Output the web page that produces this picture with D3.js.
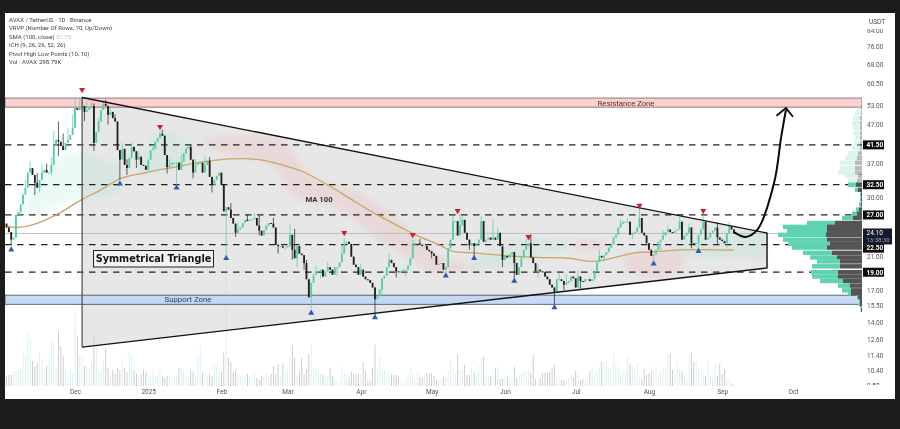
<!DOCTYPE html>
<html>
<head>
<meta charset="utf-8">
<script src="https://cdn.jsdelivr.net/npm/d3@7"></script>
<style>
  html, body { margin: 0; padding: 0; background: #1c1c1c; }
  svg { display: block; filter: blur(0.3px); }
  text { font-family: Roboto, "Noto Sans", sans-serif; }
</style>
</head>
<body>
<svg id="chart" width="900" height="429"></svg>
<script>
// daily closes by month (first candle 2024-11-02)
const firstDay = "2024-11-02";
const closeNov = [25,24.3,23.2,23.5,27,27.5,28.8,30.6,31.9,35,36,34.5,32.9,31.9,33.5,35,35.6,35,35,36.7,41.5,42.8,42.3,41.2,40.2,42,42.8,44.1,46.1];
const closeDec = [52,51.4,52,52.7,50.8,51.4,52,52.7,42,44.9,47.9,51.4,53.3,52.7,49.9,50.8,48.9,47.9,40.2,37.9,40.5,36.7,36,38.3,41,39.9,37.9,38.6,36.7,36.5,35.6];
const closeJan = [37.9,40.2,40.5,42.3,43.3,44.4,43.9,39,36.2,36.7,37.2,37.2,37.2,35.6,37.4,39.4,40.5,41,37.9,35,36.7,37.2,37.2,35,36.7,37.6,34.1,32.5,33.5,34.3,35];
const closeFeb = [32.5,27.6,28.3,27.9,26.5,25.6,24.2,24.7,25,25.7,26.2,26,26.2,26.3,26.5,25.3,24.5,23.8,24.6,25.3,25.7,25.6,25,22.5,22.3,22.3,22.1,22.1];
const closeMar = [22.3,23.9,21.8,20.7,22.3,21.3,21.1,20.1,18.2,16.3,17.8,18.7,19.1,19.1,19.3,18.5,19.1,19.6,19.3,18.7,19.6,19.6,20.2,21.3,22.7,22.9,22.6,20.9,19.9,19.6,18.7];
const closeApr = [19.3,18.5,18.2,18.1,17.8,17.3,16.1,16.4,17.1,18.3,18.6,19.6,20.5,20.1,19.6,19.1,19,19.1,19.3,19.3,19.8,20.7,22.5,22.7,22.7,22.5,22.3,22.3,21.8,21.6];
const closeMay = [21.3,21,19.9,20,20.1,19.3,19.6,22,23.2,26,26,23.8,25.3,26.2,24.2,23.2,22.4,22.7,22.3,22.7,23.2,26,22.9,23.2,23.5,23.2,23.5,23.2,24.2,22.3,20.5];
const closeJun = [21,20.8,21.2,21.5,20.1,18.7,19.6,20.8,21.8,22.3,22.7,20.8,20.1,19.1,19.3,19.1,19,18.5,18.2,17.6,17.3,16.8,18.2,18.2,18,17.6,17.8,18,18.5,18.3];
const closeJul = [17.3,18.5,18,17.9,18.2,18.2,18,18.2,19,20.2,21,20.8,21.1,21.5,22.1,22.5,23.5,23.9,25,25.6,25.9,25.9,25.9,23.9,24.2,24.3,25,26.5,24.2,23.8,22.7];
const closeAug = [21.8,21,21.2,21.8,22.9,23.2,23.8,24.3,24.7,24.3,24.2,24.5,24.7,25.9,23.2,23.8,24.2,25,22.7,22.6,22.7,23.9,24.7,25.9,23.2,23.5,24.2,24.5,25,23.5,23.2];
const closeSep = [23,22.7,24.1,25.2,24.7,24.1];
const closes = [].concat(closeNov,closeDec,closeJan,closeFeb,closeMar,closeApr,closeMay,closeJun,closeJul,closeAug,closeSep);

// the wicks that can actually be seen
const wickHighs = [["2024-11-10",33.5],["2024-11-12",37.6],["2024-11-15",35],["2024-11-17",36.9],["2024-11-19",37],["2024-11-21",38.5],["2024-11-22",45.2],["2024-11-24",47.9],["2024-11-26",44.5],["2024-11-28",46],["2024-11-30",50],["2024-12-01",55],["2024-12-03",55],["2024-12-04",56],["2024-12-06",54],["2024-12-08",54],["2024-12-09",53.6],["2024-12-11",49],["2024-12-13",54.5],["2024-12-14",54.8],["2024-12-16",52.5],["2024-12-18",50],["2024-12-21",42],["2024-12-23",38],["2024-12-25",42],["2024-12-28",40],["2025-01-03",41.5],["2025-01-06",45],["2025-01-07",45.5],["2025-01-10",38],["2025-01-15",39],["2025-01-19",41.5],["2025-01-21",38],["2025-01-25",38.9],["2025-01-27",38.5],["2025-02-05",29],["2025-02-08",25.8],["2025-02-12",27],["2025-02-15",27.3],["2025-02-17",26.9],["2025-02-23",26.5],["2025-03-02",25.5],["2025-03-04",24.8],["2025-03-09",20.5],["2025-03-13",19.8],["2025-03-18",20.3],["2025-03-24",22.5],["2025-03-25",23.4],["2025-04-01",20],["2025-04-13",21.3],["2025-04-23",23.2],["2025-04-26",23.3],["2025-05-10",26.8],["2025-05-13",27.2],["2025-05-14",27],["2025-05-22",26.8],["2025-05-27",26.4],["2025-05-29",25],["2025-06-10",23.3],["2025-06-12",24],["2025-06-15",20],["2025-06-24",19],["2025-06-27",18.8],["2025-07-02",19.2],["2025-07-11",21.8],["2025-07-20",26.3],["2025-07-23",26.5],["2025-07-28",28.3],["2025-08-07",24.6],["2025-08-09",25.3],["2025-08-14",26.6],["2025-08-18",25.6],["2025-08-24",27],["2025-08-30",25.8],["2025-09-04",25.9]];
const wickLows = [["2024-11-04",22.4],["2024-11-08",27],["2024-11-14",30.5],["2024-11-16",31],["2024-11-21",34.5],["2024-11-24",38.8],["2024-12-05",48],["2024-12-09",40],["2024-12-15",47],["2024-12-20",33.5],["2024-12-23",34.5],["2024-12-27",36],["2025-01-09",34.8],["2025-01-13",32.2],["2025-01-20",33.8],["2025-01-28",31],["2025-02-03",21.2],["2025-02-07",23.6],["2025-02-17",23.8],["2025-02-25",21.3],["2025-03-03",20.5],["2025-03-05",19.6],["2025-03-08",19.3],["2025-03-11",15.2],["2025-03-15",18.3],["2025-03-22",18.6],["2025-04-07",14.6],["2025-04-10",16.5],["2025-04-16",18.4],["2025-04-20",18.5],["2025-05-01",20.7],["2025-05-07",19],["2025-05-17",21.8],["2025-05-19",21],["2025-05-31",19.6],["2025-06-05",18.3],["2025-06-15",18.4],["2025-06-22",15.6],["2025-06-26",17],["2025-07-03",17.2],["2025-07-13",20.3],["2025-07-25",23.3],["2025-08-03",20.5],["2025-08-06",21.8],["2025-08-19",22],["2025-08-22",22],["2025-08-30",22.6],["2025-09-03",22.1]];

// volume by month, relative heights
const volNov = [10,11,11,15,15,16,17,35,30,52,47,25,20,23,33,27,18,20,25,45,44,20,55,40,30,16,15,15,13];
const volDec = [74,50,30,30,20,20,18,22,50,40,16,15,25,38,18,12,16,12,18,16,28,18,14,35,30,16,12,10,12,16,14];
const volJan = [10,10,16,10,12,16,10,8,10,10,9,12,10,18,18,15,10,8,16,14,8,30,40,14,8,10,12,10,22,20,14];
const volFeb = [14,34,135,28,24,14,16,12,10,8,12,12,10,9,14,8,6,10,12,12,10,12,20,12,22,10,22,14];
const volMar = [15,30,40,28,12,15,28,12,17,32,42,18,18,14,12,12,10,10,18,10,8,5,5,19,13,12,9,14,12,12,12];
const volApr = [12,24,15,6,5,18,41,18,30,13,16,10,14,12,11,11,8,3,3,6,14,18,14,7,14,9,8,10,13,12];
const volMay = [13,10,6,7,7,9,10,16,26,24,12,31,16,16,21,11,11,18,14,9,20,27,29,12,10,10,8,18,19,7,7];
const volJun = [9,10,8,10,19,8,12,13,14,16,15,13,31,7,5,8,13,13,13,14,18,21,11,9,6,6,4,8,11,9];
const volJul = [15,11,6,7,5,7,15,20,13,16,18,24,24,25,18,20,33,24,18,14,14,14,29,22,20,16,23,8,7,17,11];
const volAug = [13,15,16,21,12,15,18,19,33,32,16,12,24,17,15,11,8,31,33,24,25,18,15,10,10,25,9,7,22,10,22];
const volSep = [12,17,8,6,3,1];
const volumes = [].concat(volNov,volDec,volJan,volFeb,volMar,volApr,volMay,volJun,volJul,volAug,volSep);

// SMA 100
const smaDates = ["2024-11-02","2024-11-06","2024-11-13","2024-11-23","2024-12-04","2024-12-12","2024-12-20","2024-12-30","2025-01-12","2025-01-24","2025-02-05","2025-02-17","2025-02-28","2025-03-07","2025-03-19","2025-03-28","2025-04-08","2025-04-17","2025-04-24","2025-05-04","2025-05-10","2025-05-19","2025-06-02","2025-06-14","2025-06-28","2025-07-09","2025-07-26","2025-08-01","2025-08-15","2025-09-06"];
const smaValues = [25.2,25,25.4,27,29.7,31.5,33.7,34.9,36.2,37.4,38.1,37.9,36.5,35.3,32.2,29.7,27,25.2,23.9,22.5,21.6,21.4,21,20.8,20.7,20.3,21.4,21.5,21.8,21.75];

// ichimoku cloud patches: [date, top, bottom]
const cloudGreen = [
  [["2024-11-09",28.8,27],["2024-11-16",34.5,27],["2024-11-26",40.2,28.8],["2024-12-05",40.2,29.7],["2024-12-16",36.7,29.7],["2024-12-20",36,31]],
  [["2024-12-28",37.9,33.7],["2025-01-03",44.1,34.5],["2025-01-10",46.9,35.6],["2025-01-16",42.8,36],["2025-01-20",40,37]],
  [["2025-05-18",20.5,19.1],["2025-06-01",22.9,19.5],["2025-06-15",23.5,21.2],["2025-06-28",23.2,21.8]],
  [["2025-08-12",22.9,21],["2025-08-22",23.2,20.5],["2025-09-05",24,20.8],["2025-09-20",24,20.5]]
];
const cloudRed = [
  [["2025-01-25",42.8,41.5],["2025-02-05",44.1,38.6],["2025-02-20",43.4,37.9],["2025-02-27",43.4,34.5],["2025-03-02",40.2,30.2],["2025-03-12",32.9,28.8],["2025-03-22",32.5,28.8],["2025-04-01",31,25.4],["2025-04-10",28.3,22.5],["2025-04-20",25.4,21.2],["2025-05-01",21.2,18.4],["2025-05-15",19.9,19.1],["2025-05-20",19.6,19.3]],
  [["2025-07-01",23,21.8],["2025-07-10",23.2,21.6],["2025-07-14",22.5,22]],
  [["2025-07-22",21.2,19.3],["2025-08-01",21.6,18.2],["2025-08-12",22.1,18.7],["2025-08-16",21,19.5]]
];

// pivot markers
const pivotHighs = [["2024-12-04",58.2],["2025-01-06",46.4],["2025-03-25",24.2],["2025-04-23",23.9],["2025-05-12",27.7],["2025-06-11",23.6],["2025-07-28",28.6],["2025-08-24",27.7]];
const pivotLows = [["2024-11-04",21.8],["2024-12-20",32.7],["2025-01-13",31.9],["2025-02-03",20.7],["2025-03-11",14.8],["2025-04-07",14.4],["2025-05-07",18.6],["2025-05-19",20.7],["2025-06-05",18],["2025-06-22",15.3],["2025-08-03",20],["2025-08-22",21.6]];

// volume profile rows
const profilePrices = [52,50.5,48.9,47.4,46.1,44.7,43.4,42,40.7,39.4,38.3,37.2,36,35,34.3,33.3,32.5,31.5,30.6,29.7,28.8,27.9,27.2,26.5,25.7,25.1,24.5,23.9,23.2,22.6,22.1,21.4,20.8,20.3,19.7,19,18.5,18,17.5,17,16.7,16.3,15.9,15.6,15.1];
const profileUp = [4,6,7,8,7,7,5,6,8,10,12,15,15,17,13,9,8,3,1,1,2,3,5,11,28,44,40,48,44,42,35,29,27,23,28,27,26,23,12,9,3,1,1,1,0.5];
const profileDown = [1,1,2,2,2,2,2,2,2,4,5,7,7,7,4,5,6,4,1,1,1,3,5,9,27,35,35,36,35,32,35,30,25,22,22,24,24,19,12,11,11,4,2,2,1];

// drawn levels and shapes
const levels = [41.5,32.5,27,22.5,19];
const resistanceZone = [52.3,55.3];
const supportZone = [15.6,16.5];
const triangle = [["2024-12-04",55.5],["2025-09-20",24.16],["2025-09-20",19.5],["2024-12-04",12]];
const arrowPath = [["2025-09-06",24.3],["2025-09-11",23.6],["2025-09-16",24.7],["2025-09-23",32.9],["2025-09-26",43.6],["2025-09-28",51.4]];
const arrowHead = [["2025-09-24",49.6],["2025-09-28",52],["2025-10-01",49.3]];

const priceTicks = [84,76,68,60.5,53,47,37,30,21,17,15.5,14,12.6,11.4,10.4,9.5];
const monthTicks = ["2024-12-01","2025-01-01","2025-02-01","2025-03-01","2025-04-01","2025-05-01","2025-06-01","2025-07-01","2025-08-01","2025-09-01","2025-10-01"];
const legendLines = ["AVAX / TetherUS · 1D · Binance","VRVP (Number Of Rows, 70, Up/Down)","SMA (100, close)","ICH (9, 26, 26, 52, 26)","Pivot High Low Points (10, 10)","Vol · AVAX"];

const parseDay = d3.utcParse("%Y-%m-%d");
const paneLeft = 5, paneAxis = 862, paneTop = 13, paneBottom = 399, paneRight = 895;
const upColor = "#52cda6", downColor = "#1e1e1e";

const x = d3.scaleUtc().domain([parseDay("2024-12-01"), parseDay("2025-10-01")]).range([75, 793]);
const y = d3.scaleLog().domain([14, 53]).range([322, 105]);
const volY = d3.scaleLinear().domain([0, 135]).range([386, 250]);
const profileX = d3.scaleLinear().domain([0, d3.max(profileUp.map((d, i) => d + profileDown[i]))]).range([0, 84]);

// build candles
const startDay = parseDay(firstDay);
const highMap = new Map(wickHighs), lowMap = new Map(wickLows);
const fmtDay = d3.utcFormat("%Y-%m-%d");
const candles = closes.map((c, i) => {
  const date = d3.utcDay.offset(startDay, i);
  const key = fmtDay(date);
  const open = i ? closes[i - 1] : 25.6;
  return {
    date, open, close: c,
    high: Math.max(open, c, highMap.get(key) || 0),
    low: Math.min(open, c, lowMap.get(key) || 1000),
    vol: volumes[i]
  };
});

const svg = d3.select("#chart");
const defs = svg.append("defs");
defs.append("filter").attr("id", "soft").attr("x", "-20%").attr("y", "-20%").attr("width", "140%").attr("height", "140%")
  .append("feGaussianBlur").attr("stdDeviation", 3);
defs.append("clipPath").attr("id", "pane").append("rect")
  .attr("x", paneLeft).attr("y", paneTop).attr("width", paneAxis - paneLeft).attr("height", paneBottom - paneTop);
defs.append("clipPath").attr("id", "axisClip").append("rect")
  .attr("x", -5).attr("y", 29).attr("width", paneRight - paneAxis).attr("height", 356);

svg.append("rect").attr("x", paneLeft).attr("y", paneTop).attr("width", paneRight - paneLeft).attr("height", paneBottom - paneTop).attr("fill", "#fff");

const pane = svg.append("g").attr("clip-path", "url(#pane)");

// volume
pane.append("g").selectAll("rect").data(candles).join("rect")
  .attr("x", d => x(d.date) - 0.4)
  .attr("width", 0.8)
  .attr("y", d => volY(d.vol))
  .attr("height", d => volY(0) - volY(d.vol))
  .attr("fill", d => d.close >= d.open ? "#d3f1e8" : "#c2c2c2");

// triangle
const triPts = triangle.map(d => [x(parseDay(d[0])), y(d[1])]);
pane.append("path").attr("d", d3.line()(triPts) + "Z").attr("fill", "#cfcfcf").attr("fill-opacity", 0.5);

// zones go over the triangle so they keep their colour
function drawZone(zone, fill, stroke) {
  pane.append("rect")
    .attr("x", paneLeft).attr("width", paneAxis - paneLeft)
    .attr("y", y(zone[1])).attr("height", y(zone[0]) - y(zone[1]))
    .attr("fill", fill).attr("fill-opacity", 0.85).attr("stroke", stroke).attr("stroke-width", 1);
}
drawZone(resistanceZone, "#fbc8c8", "#8c7a78");
drawZone(supportZone, "#bdd4f4", "#5f6776");

// cloud
const cloudArea = d3.area()
  .x(d => x(parseDay(d[0])))
  .y0(d => y(d[2]))
  .y1(d => y(d[1]))
  .curve(d3.curveBasis);
const cloud = pane.append("g").attr("filter", "url(#soft)");
cloud.selectAll(".g").data(cloudGreen).join("path").attr("class", "g").attr("d", cloudArea).attr("fill", "#8fe3c4").attr("fill-opacity", 0.17);
cloud.selectAll(".r").data(cloudRed).join("path").attr("class", "r").attr("d", cloudArea).attr("fill", "#f0a9a9").attr("fill-opacity", 0.26);

// price line and levels
pane.append("line").attr("x1", paneLeft).attr("x2", paneAxis).attr("y1", y(24.1)).attr("y2", y(24.1)).attr("stroke", "#b5b5b5").attr("stroke-width", 0.8);
pane.append("g").selectAll("line").data(levels).join("line")
  .attr("x1", paneLeft).attr("x2", paneAxis)
  .attr("y1", d => y(d)).attr("y2", d => y(d))
  .attr("stroke", "#222").attr("stroke-width", 1.2).attr("stroke-dasharray", "6.5 5.5");

// sma
const sma = smaDates.map((d, i) => [parseDay(d), smaValues[i]]);
pane.append("path").datum(sma)
  .attr("d", d3.line().x(d => x(d[0])).y(d => y(d[1])).curve(d3.curveCatmullRom))
  .attr("fill", "none").attr("stroke", "#c9a566").attr("stroke-width", 1.3);

// candles
const candle = pane.append("g").selectAll("g").data(candles).join("g");
candle.append("line")
  .attr("x1", d => x(d.date)).attr("x2", d => x(d.date))
  .attr("y1", d => y(d.high)).attr("y2", d => y(d.low))
  .attr("stroke", d => d.close >= d.open ? upColor : downColor).attr("stroke-width", 0.7);
candle.append("rect")
  .attr("x", d => x(d.date) - 0.9).attr("width", 1.8)
  .attr("y", d => y(Math.max(d.open, d.close)))
  .attr("height", d => Math.max(1, Math.abs(y(d.open) - y(d.close))))
  .attr("fill", d => d.close >= d.open ? upColor : downColor);

// triangle outline
pane.append("path").attr("d", d3.line()([triPts[0], triPts[3]])).attr("stroke", "#555").attr("stroke-width", 1.3).attr("fill", "none");
pane.append("path").attr("d", d3.line()([triPts[0], triPts[1], triPts[2], triPts[3]])).attr("stroke", "#111").attr("stroke-width", 1.4).attr("fill", "none");

// pivots
const triSym = d3.symbol().type(d3.symbolTriangle).size(16);
pane.append("g").selectAll("path").data(pivotHighs).join("path")
  .attr("d", triSym)
  .attr("transform", d => `translate(${x(parseDay(d[0]))},${y(d[1])}) rotate(180)`)
  .attr("fill", "#c8242c");
pane.append("g").selectAll("path").data(pivotLows).join("path")
  .attr("d", triSym)
  .attr("transform", d => `translate(${x(parseDay(d[0]))},${y(d[1])})`)
  .attr("fill", "#2d5bb5");

// arrow
const arrowLine = d3.line().x(d => x(parseDay(d[0]))).y(d => y(d[1]));
pane.append("path").attr("d", arrowLine.curve(d3.curveCatmullRom)(arrowPath)).attr("fill", "none").attr("stroke", "#0a0a0a").attr("stroke-width", 2);
pane.append("path").attr("d", arrowLine.curve(d3.curveLinear)(arrowHead)).attr("fill", "none").attr("stroke", "#0a0a0a").attr("stroke-width", 1.8);

// volume profile
const profile = svg.append("g").selectAll("g").data(profilePrices).join("g")
  .attr("opacity", d => d > 33 ? 0.4 : 1);
profile.append("rect")
  .attr("x", (d, i) => paneAxis - profileX(profileUp[i] + profileDown[i]))
  .attr("width", (d, i) => profileX(profileUp[i]))
  .attr("y", d => y(d) - 2.2).attr("height", 4.4)
  .attr("fill", (d) => d > 33 ? "#a5e8d0" : "#5fd3b0");
profile.append("rect")
  .attr("x", (d, i) => paneAxis - profileX(profileDown[i]))
  .attr("width", (d, i) => profileX(profileDown[i]))
  .attr("y", d => y(d) - 2.2).attr("height", 4.4)
  .attr("fill", "#555");

// zone and shape labels
svg.append("text").attr("x", 626).attr("y", y(53.7)).attr("dy", "0.35em").attr("text-anchor", "middle")
  .attr("font-size", 7.7).attr("fill", "#6a2a2a").text("Resistance Zone");
svg.append("text").attr("x", 188).attr("y", y(16.05)).attr("dy", "0.35em").attr("text-anchor", "middle")
  .attr("font-size", 7.8).attr("fill", "#23406f").text("Support Zone");
svg.append("text").attr("x", 319).attr("y", 199).attr("dy", "0.35em").attr("text-anchor", "middle")
  .attr("font-size", 7.7).attr("font-weight", 700).attr("fill", "#333").text("MA 100");
svg.append("rect").attr("x", 93.5).attr("y", 250.5).attr("width", 120).attr("height", 16.5)
  .attr("fill", "#f2f2f2").attr("stroke", "#222").attr("stroke-width", 1);
svg.append("text").attr("x", 153.5).attr("y", 259).attr("dy", "0.35em").attr("text-anchor", "middle")
  .attr("font-size", 9.7).attr("font-weight", 700).attr("fill", "#111")
  .style("font-family", "'DejaVu Sans', sans-serif").text("Symmetrical Triangle");

// legend
const legend = svg.append("g").attr("font-size", 6).attr("fill", "#444");
legend.selectAll("text").data(legendLines).join("text")
  .attr("x", 9).attr("y", (d, i) => 20 + i * 8.35).attr("dy", "0.35em").text(d => d);
svg.append("text").attr("x", 56).attr("y", 36.7).attr("dy", "0.35em").attr("font-size", 6).attr("fill", "#c9c488").text("21.75");
svg.append("text").attr("x", 39).attr("y", 61.8).attr("dy", "0.35em").attr("font-size", 6).attr("fill", "#333").text("298.79K");

// axes
const xAxis = svg.append("g").attr("transform", "translate(0,389)")
  .call(d3.axisBottom(x).tickValues(monthTicks.map(parseDay)).tickSize(0).tickPadding(0)
    .tickFormat(d => d.getUTCMonth() === 0 ? d.getUTCFullYear() : d3.utcFormat("%b")(d)));
xAxis.select(".domain").remove();
xAxis.selectAll("text").attr("font-size", 6.5).attr("fill", "#555").style("font-family", "Roboto, sans-serif");

const yAxis = svg.append("g").attr("transform", `translate(${paneAxis + 5},0)`).attr("clip-path", "url(#axisClip)")
  .call(d3.axisRight(y).tickValues(priceTicks).tickSize(0).tickPadding(0).tickFormat(d3.format(".2f")));
yAxis.select(".domain").remove();
yAxis.selectAll("text").attr("font-size", 6.5).attr("fill", "#555").style("font-family", "Roboto, sans-serif");

svg.append("text").attr("x", 869).attr("y", 21.5).attr("dy", "0.35em").attr("font-size", 6.5).attr("fill", "#444").text("USDT");

// level tags
const tagOffset = { 22.5: 3.5 };
const tags = svg.append("g").selectAll("g").data(levels).join("g")
  .attr("transform", d => `translate(${paneAxis + 1},${y(d) + (tagOffset[d] || 0)})`);
tags.append("rect").attr("x", 0).attr("y", -4.5).attr("width", 21).attr("height", 9).attr("fill", "#0c0c0c");
tags.append("text").attr("x", 3.5).attr("dy", "0.35em").attr("font-size", 6.5).attr("font-weight", 700).attr("fill", "#fff").text(d => d3.format(".2f")(d));

// last price tag
const lastTag = svg.append("g").attr("transform", `translate(${paneAxis + 1},${y(24.1) - 5})`);
lastTag.append("rect").attr("x", 0).attr("y", 0).attr("width", 29).attr("height", 16).attr("fill", "#141a2b");
lastTag.append("text").attr("x", 3.5).attr("y", 4.5).attr("dy", "0.35em").attr("font-size", 6.5).attr("fill", "#fff").text("24.10");
lastTag.append("text").attr("x", 3.5).attr("y", 11.5).attr("dy", "0.35em").attr("font-size", 6).attr("fill", "#9aa3b5").text("13:38:30");
</script>
</body>
</html>
